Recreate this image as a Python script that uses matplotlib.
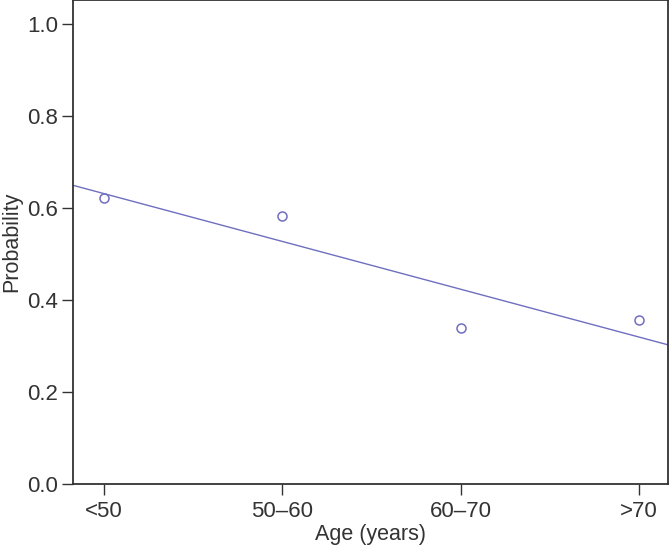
import matplotlib.pyplot as plt
import numpy as np

plt.rcParams['font.family'] = ['Liberation Sans', 'DejaVu Sans']

# Data
age_groups = ['<50', '50\u201360', '60\u201370', '>70']
probability = [0.622, 0.583, 0.339, 0.357]

x = np.arange(1, len(age_groups) + 1)
color = '#6f6fc0'

fig = plt.figure(figsize=(6.7, 5.46), dpi=100)
ax = fig.add_axes([0.109, 0.1136, 0.888, 0.8864])

xlim = (0.826, 4.163)
# fitted line through the points
slope, intercept = np.polyfit(x, probability, 1)
xl = np.array(xlim)
ax.plot(xl, intercept + slope * xl, color=color, lw=1.0)
ax.plot(x, probability, 'o', mfc='none', mec=color, ms=6.5, mew=1.1)

ax.set_xlim(*xlim)
ax.set_ylim(0, 1.052)
ax.set_xticks(x)
ax.set_xticklabels(age_groups)
ax.set_yticks([0.0, 0.2, 0.4, 0.6, 0.8, 1.0])
ax.set_yticklabels(['0.0', '0.2', '0.4', '0.6', '0.8', '1.0'])

for s in ax.spines.values():
    s.set_color('#333333')
    s.set_linewidth(1.3)
ax.tick_params(colors='#333333', labelsize=16, length=8, width=1.0, pad=3)
ax.tick_params(axis='x', pad=4)

ax.set_xlabel('Age (years)', fontsize=15.5, color='#333333', labelpad=2)
ax.set_ylabel('Probability', fontsize=15.5, color='#333333', labelpad=3)

fig.savefig('out.png', dpi=100)
